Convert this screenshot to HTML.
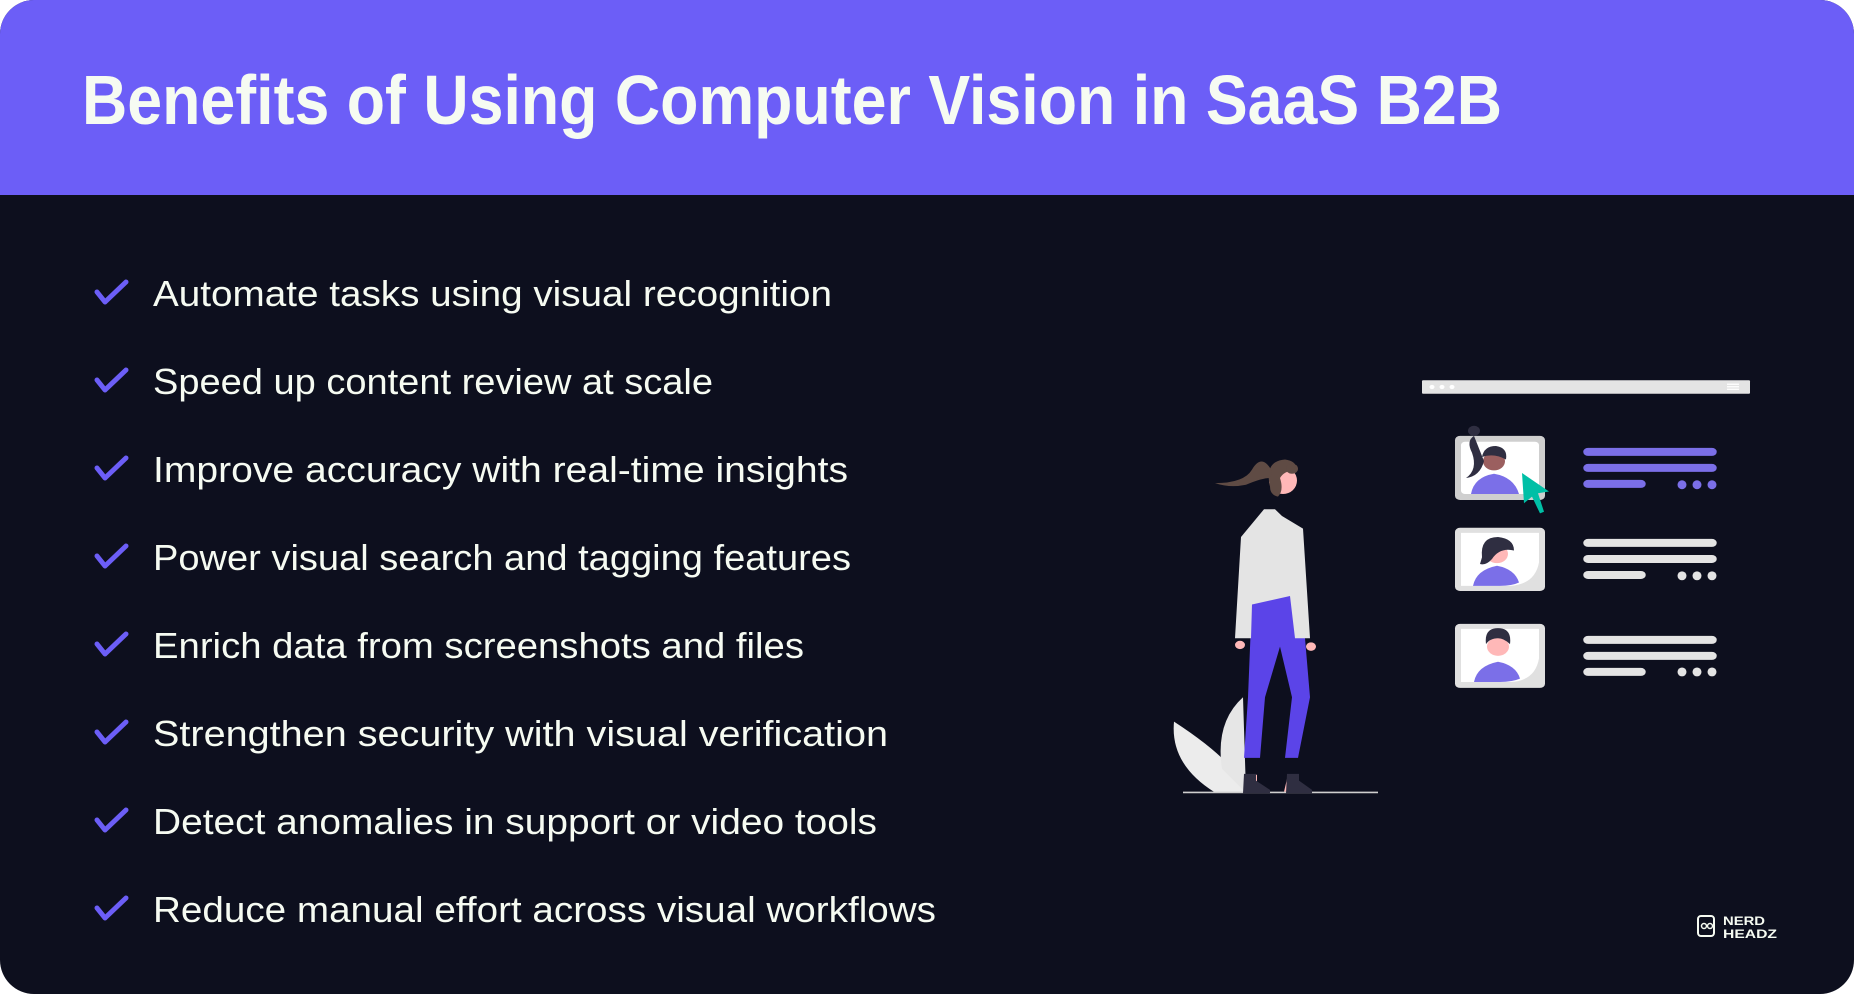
<!DOCTYPE html>
<html><head><meta charset="utf-8"><style>
html,body{margin:0;padding:0;background:#fff;}
svg{display:block}
</style></head><body>
<svg width="1854" height="994" viewBox="0 0 1854 994" xmlns="http://www.w3.org/2000/svg" font-family="'Liberation Sans', sans-serif">
<defs><clipPath id="c"><rect x="0" y="0" width="1854" height="994" rx="34"/></clipPath></defs>
<g clip-path="url(#c)">
<rect width="1854" height="994" fill="#0d0f1e"/>
<rect width="1854" height="195" fill="#6c5ef7"/>
</g>
<text x="82" y="124" font-size="70" font-weight="bold" fill="#f6fbf2" textLength="1420" lengthAdjust="spacingAndGlyphs">Benefits of Using Computer Vision in SaaS B2B</text>
<g fill="none" stroke="#6c5ef7" stroke-width="5" stroke-linecap="round" stroke-linejoin="round">
<path d="M97 292 L105 302 L126 282"/>
<path d="M97 380 L105 390 L126 370"/>
<path d="M97 468 L105 478 L126 458"/>
<path d="M97 556 L105 566 L126 546"/>
<path d="M97 644 L105 654 L126 634"/>
<path d="M97 732 L105 742 L126 722"/>
<path d="M97 820 L105 830 L126 810"/>
<path d="M97 908 L105 918 L126 898"/>
</g>
<g font-size="36" fill="#f6fbf2">
<text x="153" y="306" textLength="679" lengthAdjust="spacingAndGlyphs">Automate tasks using visual recognition</text>
<text x="153" y="394" textLength="560" lengthAdjust="spacingAndGlyphs">Speed up content review at scale</text>
<text x="153" y="482" textLength="695" lengthAdjust="spacingAndGlyphs">Improve accuracy with real-time insights</text>
<text x="153" y="570" textLength="698" lengthAdjust="spacingAndGlyphs">Power visual search and tagging features</text>
<text x="153" y="658" textLength="651" lengthAdjust="spacingAndGlyphs">Enrich data from screenshots and files</text>
<text x="153" y="746" textLength="735" lengthAdjust="spacingAndGlyphs">Strengthen security with visual verification</text>
<text x="153" y="834" textLength="724" lengthAdjust="spacingAndGlyphs">Detect anomalies in support or video tools</text>
<text x="153" y="922" textLength="783" lengthAdjust="spacingAndGlyphs">Reduce manual effort across visual workflows</text>
</g>
<g transform="translate(0,360) scale(1,0.843) translate(0,-360)">
<!-- browser bar -->
<rect x="1422" y="384" width="328" height="16" fill="#e4e4e4" rx="1"/>
<circle cx="1432" cy="392" r="2.5" fill="#fff"/><circle cx="1442" cy="392" r="2.5" fill="#fff"/><circle cx="1452" cy="392" r="2.5" fill="#fff"/>
<rect x="1727" y="388" width="12" height="1.5" fill="#fff"/><rect x="1727" y="391" width="12" height="1.5" fill="#fff"/><rect x="1727" y="394" width="12" height="1.5" fill="#fff"/>
<!-- cards -->
<rect x="1455" y="450" width="90" height="76" rx="5" fill="#cfcfcf"/>
<rect x="1461" y="457" width="78" height="62" rx="4" fill="#fff"/>
<circle cx="1494" cy="480" r="11" fill="#9b5f5f"/>
<path d="M1471 519 Q1474 499 1494 495 Q1514 499 1519 519Z" fill="#7b6fe8"/>
<path d="M1482 475 Q1484 462 1496 462 Q1508 464 1506 478 Q1494 470 1482 475Z" fill="#2f2e41"/>
<path d="M1474 450 Q1466 456 1472 470 Q1478 490 1466 500 Q1480 498 1484 480 Z" fill="#2f2e41"/>
<circle cx="1474" cy="444" r="6" fill="#2f2e41"/>
<path d="M1522 494 L1549 516 L1538 518 L1544 540 L1540 542 L1532 522 L1524 530 Z" fill="#00bfa6"/>
<rect x="1455" y="559" width="90" height="75" rx="5" fill="#e0e0e0"/>
<path d="M1461 565 H1539 V600 Q1535 626 1510 628 H1461 Z" fill="#fff"/>
<circle cx="1497" cy="590" r="11" fill="#ffb8b8"/>
<path d="M1473 628 Q1476 609 1497 604 Q1515 608 1519 624 Q1512 628 1500 628Z" fill="#7b6fe8"/>
<path d="M1482 594 Q1480 570 1498 570 Q1514 572 1514 586 Q1500 582 1492 596 Q1486 604 1480 602Z" fill="#2f2e41"/>
<rect x="1455" y="673" width="90" height="76" rx="5" fill="#e0e0e0"/>
<path d="M1461 679 H1539 V714 Q1535 741 1510 742 H1461 Z" fill="#fff"/>
<circle cx="1498" cy="700" r="11" fill="#ffb8b8"/>
<path d="M1474 742 Q1477 723 1498 718 Q1516 722 1520 738 Q1512 742 1500 742Z" fill="#7b6fe8"/>
<path d="M1486 697 Q1484 678 1498 678 Q1512 678 1510 697 Q1504 690 1498 690 Q1490 690 1486 697Z" fill="#2f2e41"/>
<g stroke-linecap="round" stroke-width="9.5">
<g stroke="#7b6fe8"><line x1="1588" y1="469" x2="1712" y2="469"/><line x1="1588" y1="488" x2="1712" y2="488"/><line x1="1588" y1="507" x2="1641" y2="507"/></g>
<g stroke="#e4e4e4"><line x1="1588" y1="577" x2="1712" y2="577"/><line x1="1588" y1="596" x2="1712" y2="596"/><line x1="1588" y1="615" x2="1641" y2="615"/>
<line x1="1588" y1="692" x2="1712" y2="692"/><line x1="1588" y1="711" x2="1712" y2="711"/><line x1="1588" y1="730" x2="1641" y2="730"/></g>
</g>
<g fill="#7b6fe8"><ellipse cx="1682" cy="508" rx="4.5" ry="5.3"/><ellipse cx="1697" cy="508" rx="4.5" ry="5.3"/><ellipse cx="1712" cy="508" rx="4.5" ry="5.3"/></g>
<g fill="#e4e4e4"><ellipse cx="1682" cy="616" rx="4.5" ry="5.3"/><ellipse cx="1697" cy="616" rx="4.5" ry="5.3"/><ellipse cx="1712" cy="616" rx="4.5" ry="5.3"/>
<ellipse cx="1682" cy="730" rx="4.5" ry="5.3"/><ellipse cx="1697" cy="730" rx="4.5" ry="5.3"/><ellipse cx="1712" cy="730" rx="4.5" ry="5.3"/></g>
<!-- plant -->
<path d="M1174 789 Q1170 840 1215 873 L1245 873 Q1240 840 1174 789Z" fill="#ececec"/>
<path d="M1243 760 Q1215 790 1222 845 L1246 873 Z" fill="#e6e6e6"/>
<!-- woman -->
<line x1="1183" y1="873" x2="1378" y2="873" stroke="#cfcfcf" stroke-width="2"/>
<path d="M1247 852 h10 v20 h-13 z M1288 852 h9 v20 h-13z" fill="#ffb8b8"/>
<path d="M1244 851 h12 v8 l14 11 v4 h-27z M1287 851 h12 v8 l13 11 v4 h-26z" fill="#2f2e41"/>
<path d="M1252 643 L1290 638 L1305 690 L1310 760 L1298 832 L1285 832 L1292 760 L1280 700 L1265 760 L1260 832 L1244 832 L1248 760 Z" fill="#5b44e8"/>
<path d="M1264 537 L1275 537 L1282 545 L1303 560 L1310 690 L1295 690 L1290 640 L1252 650 L1251 690 L1235 690 L1241 570 Z" fill="#e4e4e4"/>
<circle cx="1240" cy="698" r="5" fill="#ffb8b8"/><circle cx="1311" cy="700" r="5" fill="#ffb8b8"/>
<ellipse cx="1283" cy="503" rx="14" ry="16" fill="#ffb8b8"/>
<path d="M1270 510 Q1264 480 1285 478 Q1298 480 1296 492 Q1285 490 1280 500 Q1284 515 1278 522 Q1270 520 1270 510Z" fill="#5f4b44"/>
<path d="M1272 492 Q1262 470 1252 490 Q1244 506 1215 506 Q1230 512 1246 508 Q1262 500 1270 500Z" fill="#5f4b44"/>
<circle cx="1292" cy="489" r="6" fill="#5f4b44"/>
</g>
<!-- logo -->
<rect x="1698" y="916" width="16" height="20" rx="3" fill="none" stroke="#f6fbf2" stroke-width="2"/>
<circle cx="1704" cy="926" r="2.5" fill="none" stroke="#f6fbf2" stroke-width="1.5"/><circle cx="1710" cy="926" r="2.5" fill="none" stroke="#f6fbf2" stroke-width="1.5"/>
<text x="1723" y="925" font-size="12" font-weight="bold" fill="#f6fbf2" textLength="42" lengthAdjust="spacingAndGlyphs">NERD</text>
<text x="1723" y="938" font-size="12" font-weight="bold" fill="#f6fbf2" textLength="54" lengthAdjust="spacingAndGlyphs">HEADZ</text>
</svg>
</body></html>
